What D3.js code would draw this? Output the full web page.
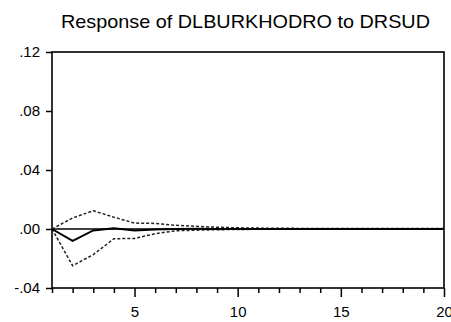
<!DOCTYPE html>
<html>
<head>
<meta charset="utf-8">
<script src="https://cdn.jsdelivr.net/npm/d3@7"></script>
<style>
  html, body { margin: 0; padding: 0; background: #fff; }
  svg { display: block; }
  text { font-family: "Liberation Sans", Arial, sans-serif; fill: #000; }
</style>
</head>
<body>
<svg id="chart" width="451" height="322"></svg>
<script>
// Impulse response horizon (periods)
const periods = d3.range(1, 21);
// Response of DLBURKHODRO to a DRSUD shock
const response = [0.0000, -0.0080, -0.0010, 0.0005, -0.0010, -0.0004, 0.0000, 0.0001, 0.0000, 0.0000,
                  0.0000, 0.0000, 0.0000, 0.0000, 0.0000, 0.0000, 0.0000, 0.0000, 0.0000, 0.0000];
// +/- 2 S.E. bands
const upperBand = [0.0000, 0.0075, 0.0124, 0.0080, 0.0040, 0.0038, 0.0025, 0.0018, 0.0012, 0.0008,
                   0.0006, 0.0005, 0.0004, 0.0004, 0.0003, 0.0003, 0.0003, 0.0003, 0.0003, 0.0003];
const lowerBand = [0.0000, -0.0249, -0.0174, -0.0066, -0.0064, -0.0032, -0.0012, -0.0008, -0.0005, -0.0003,
                   -0.0002, -0.0002, -0.0001, -0.0001, -0.0001, -0.0001, -0.0001, -0.0001, -0.0001, -0.0001];
const yTickValues = [-0.04, 0.00, 0.04, 0.08, 0.12];
const yTickLabels = ["-.04", ".00", ".04", ".08", ".12"];
const xTickValues = [5, 10, 15, 20];
const title = "Response of DLBURKHODRO to DRSUD";

const svg = d3.select("#chart");
const margin = { left: 52, right: 7, top: 52, bottom: 34 };
const W = 451, H = 322;

const x = d3.scaleLinear().domain([1, 20]).range([margin.left, W - margin.right]);
const y = d3.scaleLinear().domain([-0.04, 0.12]).range([H - margin.bottom, margin.top]);

svg.append("rect").attr("width", W).attr("height", H).attr("fill", "#fff");

// Title
svg.append("text")
  .attr("x", 245.5).attr("y", 28)
  .attr("text-anchor", "middle")
  .style("font-size", "19px")
  .attr("textLength", 369)
  .attr("lengthAdjust", "spacingAndGlyphs")
  .text(title);

// Zero line
svg.append("line")
  .attr("x1", x(1)).attr("x2", x(20))
  .attr("y1", y(0)).attr("y2", y(0))
  .attr("stroke", "#000").attr("stroke-width", 1.3);

const line = d3.line().x((d, i) => x(periods[i])).y(d => y(d));

// Confidence bands
[upperBand, lowerBand].forEach(band => {
  svg.append("path")
    .attr("d", line(band))
    .attr("fill", "none")
    .attr("stroke", "#222")
    .attr("stroke-width", 1.5)
    .attr("stroke-dasharray", "3,2");
});

// Response
svg.append("path")
  .attr("d", line(response))
  .attr("fill", "none")
  .attr("stroke", "#000")
  .attr("stroke-width", 2);

// Frame
svg.append("rect")
  .attr("x", x(1)).attr("y", y(0.12))
  .attr("width", x(20) - x(1)).attr("height", y(-0.04) - y(0.12))
  .attr("fill", "none").attr("stroke", "#000").attr("stroke-width", 1.6);

// Y axis
const yAxis = d3.axisLeft(y)
  .tickValues(yTickValues)
  .tickFormat((d, i) => yTickLabels[i])
  .tickSize(6).tickPadding(6);
const gy = svg.append("g").attr("transform", `translate(${margin.left},0)`).call(yAxis);
gy.select(".domain").remove();
gy.selectAll("line").attr("stroke", "#000").attr("stroke-width", 1.5);
gy.selectAll("text").style("font-size", "15px").style("fill", "#000");

// X axis: minor ticks every period, labelled majors
const gxMinor = svg.append("g").attr("transform", `translate(0,${H - margin.bottom})`)
  .call(d3.axisBottom(x).tickValues(periods.filter(p => !xTickValues.includes(p))).tickSize(5).tickFormat(""));
gxMinor.select(".domain").remove();
gxMinor.selectAll("line").attr("stroke", "#000").attr("stroke-width", 1.5);

const gx = svg.append("g").attr("transform", `translate(0,${H - margin.bottom})`)
  .call(d3.axisBottom(x).tickValues(xTickValues).tickFormat(d3.format("d")).tickSize(9).tickPadding(9));
gx.select(".domain").remove();
gx.selectAll("line").attr("stroke", "#000").attr("stroke-width", 1.5);
gx.selectAll("text").style("font-size", "15px").style("fill", "#000");
</script>
</body>
</html>
